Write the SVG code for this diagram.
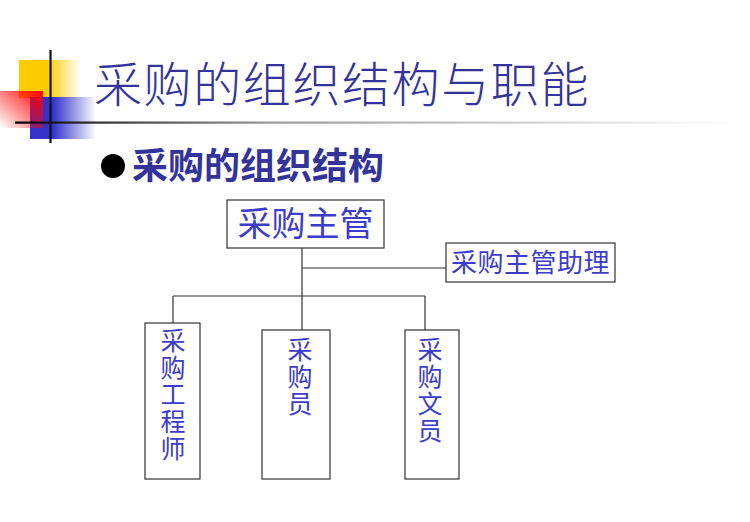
<svg xmlns="http://www.w3.org/2000/svg" width="750" height="522" viewBox="0 0 750 522">
<defs>
<linearGradient id="gy" x1="0" y1="0" x2="1" y2="0"><stop offset="0.45" stop-color="#ffcc00"/><stop offset="1" stop-color="#ffcc00" stop-opacity="0"/></linearGradient>
<linearGradient id="gb" x1="0" y1="0" x2="1" y2="0"><stop offset="0.35" stop-color="#3333cc"/><stop offset="1" stop-color="#3333cc" stop-opacity="0"/></linearGradient>
<linearGradient id="gr" x1="1" y1="0" x2="0" y2="1"><stop offset="0" stop-color="#ff0000"/><stop offset="1" stop-color="#ff0000" stop-opacity="0"/></linearGradient>
<linearGradient id="gl" x1="0" y1="0" x2="1" y2="0"><stop offset="0" stop-color="#000000"/><stop offset="0.35" stop-color="#999999"/><stop offset="1" stop-color="#ffffff"/></linearGradient>
<style>
.title{font-family:"Noto Sans CJK SC","Noto Sans CJK JP",sans-serif;fill:#333399}
.node rect{fill:#ffffff;stroke:#333333;stroke-width:1.2}
.node text{font-family:"Noto Sans CJK SC","Noto Sans CJK JP",sans-serif;fill:#3c3cc8;text-anchor:middle}
.conn line{stroke:#333333;stroke-width:1.2}
</style>
</defs>
<rect width="750" height="522" fill="#ffffff"/>
<g id="decor">
<rect x="19" y="60" width="62" height="38" fill="url(#gy)"/>
<rect x="30" y="97" width="66" height="42" fill="url(#gb)"/>
<rect x="0" y="91" width="43" height="37" fill="url(#gr)"/>
<line x1="50.5" y1="50" x2="50.5" y2="143" stroke="#111111" stroke-width="2.2"/>
<rect x="15" y="121.5" width="725" height="2.2" fill="url(#gl)"/>
</g>
<text class="title" x="94" y="102" font-size="48" font-weight="300" letter-spacing="1.6">采购的组织结构与职能</text>
<circle cx="113" cy="166" r="12" fill="#000000"/>
<text class="title" x="132" y="179" font-size="36" font-weight="bold">采购的组织结构</text>
<g id="connectors" class="conn">
<line x1="302" y1="248" x2="302" y2="330"/>
<line x1="302" y1="268" x2="446" y2="268"/>
<line x1="173" y1="296" x2="425" y2="296"/>
<line x1="173" y1="296" x2="173" y2="323"/>
<line x1="425" y1="296" x2="425" y2="330"/>
</g>
<g id="n-manager" class="node">
<rect x="227" y="200" width="157" height="48"/>
<text x="305.5" y="236" font-size="34">采购主管</text>
</g>
<g id="n-assistant" class="node">
<rect x="446" y="243" width="169" height="39"/>
<text x="530.5" y="272" font-size="26" letter-spacing="0.5">采购主管助理</text>
</g>
<g id="n-engineer" class="node">
<rect x="145" y="323" width="55" height="156"/>
<text font-size="25"><tspan x="173" y="350">采</tspan><tspan x="173" y="377">购</tspan><tspan x="173" y="404">工</tspan><tspan x="173" y="431">程</tspan><tspan x="173" y="458">师</tspan></text>
</g>
<g id="n-buyer" class="node">
<rect x="262" y="330" width="68" height="149"/>
<text font-size="25"><tspan x="300" y="359">采</tspan><tspan x="300" y="386">购</tspan><tspan x="300" y="413">员</tspan></text>
</g>
<g id="n-clerk" class="node">
<rect x="405" y="330" width="54" height="149"/>
<text font-size="25"><tspan x="430" y="359">采</tspan><tspan x="430" y="386">购</tspan><tspan x="430" y="413">文</tspan><tspan x="430" y="440">员</tspan></text>
</g>
</svg>
